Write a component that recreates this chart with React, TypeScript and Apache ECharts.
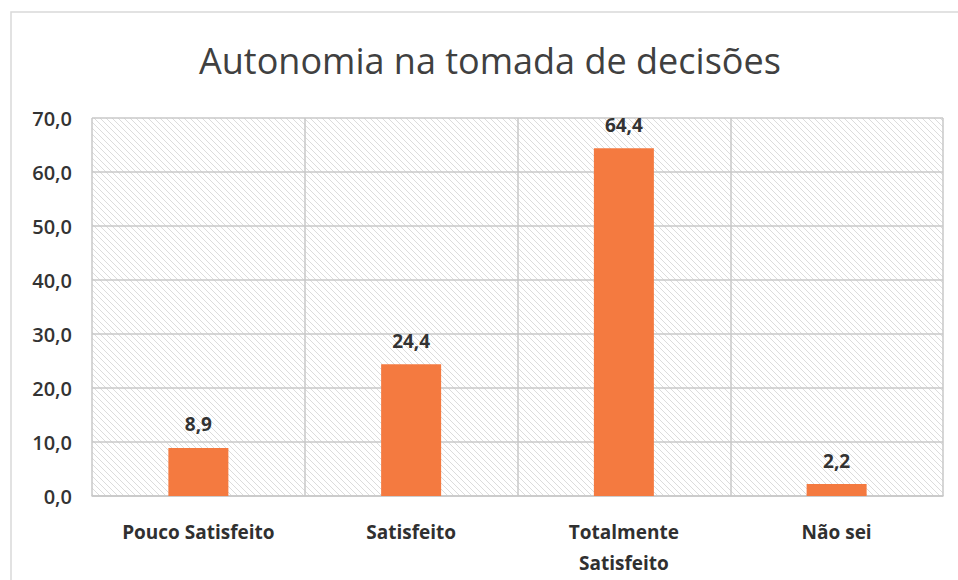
import React, { useEffect, useRef } from "react";
import * as echarts from "echarts";

const categories = ["Pouco Satisfeito", "Satisfeito", "Totalmente\nSatisfeito", "Não sei"];
const values = [8.9, 24.4, 64.4, 2.2];
const yTicks = [0, 10, 20, 30, 40, 50, 60, 70];
const title = "Autonomia na tomada de decisões";

function makeHatch(): HTMLCanvasElement {
  const c = document.createElement("canvas");
  c.width = 6;
  c.height = 6;
  const ctx = c.getContext("2d")!;
  ctx.fillStyle = "#ffffff";
  ctx.fillRect(0, 0, 6, 6);
  ctx.strokeStyle = "#dcdcdc";
  ctx.lineWidth = 1;
  ctx.beginPath();
  ctx.moveTo(-1, -1);
  ctx.lineTo(7, 7);
  ctx.moveTo(-4, 2);
  ctx.lineTo(4, 10);
  ctx.moveTo(2, -4);
  ctx.lineTo(10, 4);
  ctx.stroke();
  return c;
}

export default function App() {
  const ref = useRef<HTMLDivElement>(null);
  useEffect(() => {
    const chart = echarts.init(ref.current!, undefined, { renderer: "svg" });
    const hatch = makeHatch();
    chart.setOption({
      animation: false,
      backgroundColor: "#ffffff",
      title: {
        text: title,
        left: 194,
        top: 37,
        textStyle: {
          fontFamily: "Open Sans",
          fontWeight: "normal",
          fontSize: 36,
          color: "#404040",
        },
      },
      graphic: [
        {
          type: "rect",
          shape: { x: 11, y: 12, width: 960, height: 600 },
          style: { fill: "none", stroke: "#d9d9d9", lineWidth: 1.5 },
          silent: true,
        },
      ],
      grid: {
        left: 92,
        right: 15,
        top: 118,
        bottom: 84,
        show: true,
        backgroundColor: { image: hatch, repeat: "repeat" },
        borderWidth: 0,
      },
      xAxis: {
        type: "category",
        data: categories,
        axisLine: { show: true, lineStyle: { color: "#c8c8c8", width: 1.5 } },
        axisTick: { show: false },
        splitLine: { show: true, lineStyle: { color: "#c8c8c8", width: 1.5 } },
        axisLabel: {
          color: "#303030",
          fontWeight: "bold",
          fontFamily: "Open Sans",
          fontSize: 19,
          margin: 20,
          lineHeight: 31,
          interval: 0,
        },
      },
      yAxis: {
        type: "value",
        min: yTicks[0],
        max: yTicks[yTicks.length - 1],
        interval: 10,
        axisLine: { show: false },
        axisTick: { show: false },
        splitLine: { show: true, lineStyle: { color: "#c8c8c8", width: 1.5 } },
        axisLabel: {
          color: "#333333",
          fontFamily: "Open Sans",
          fontWeight: 600,
          fontSize: 20,
          margin: 20,
          formatter: (v: number) => v.toFixed(1).replace(".", ","),
        },
      },
      series: [
        {
          type: "bar",
          data: values,
          barWidth: 60,
          itemStyle: { color: "#F47A40" },
          label: {
            show: true,
            position: "top",
            distance: 14,
            color: "#333333",
            fontWeight: "bold",
            fontFamily: "Open Sans",
            fontSize: 19,
            formatter: (p: any) => p.value.toFixed(1).replace(".", ","),
          },
        },
      ],
    });
    return () => chart.dispose();
  }, []);
  return (
    <div
      ref={ref}
      style={{ position: "fixed", left: 0, top: 0, width: 958, height: 580 }}
    />
  );
}
